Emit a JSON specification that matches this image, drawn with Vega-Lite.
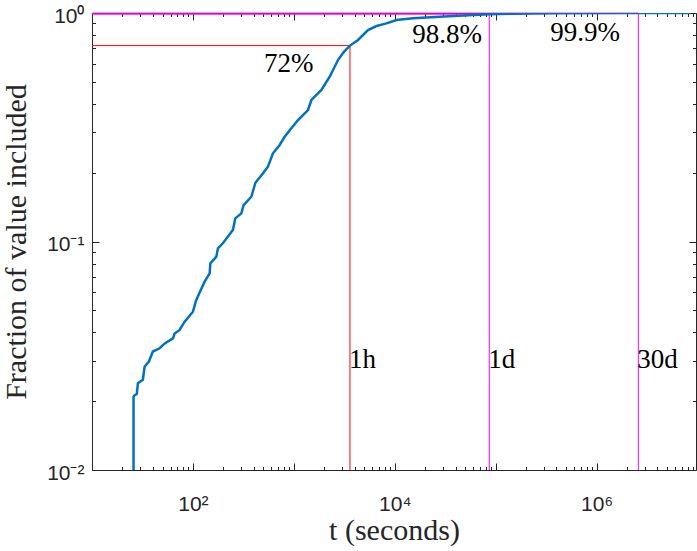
{
  "$schema": "https://vega.github.io/schema/vega-lite/v6.json",
  "width": 604,
  "height": 457,
  "autosize": {"type": "none"},
  "padding": {"left": 92, "top": 13, "right": 1, "bottom": 81},
  "background": "white",
  "config": {
    "view": {"stroke": "#262626", "strokeWidth": 1},
    "axis": {"domain": false, "grid": false, "tickColor": "#262626", "tickWidth": 1, "labelColor": "#262626", "titleColor": "#262626", "labelFont": "Liberation Sans, Arial, sans-serif", "labelFontSize": 21, "titleFont": "'Liberation Serif', 'Times New Roman', serif", "titleFontSize": 30, "titleFontWeight": "normal", "labelFlush": false, "labelOverlap": false, "labelBound": false}
  },
  "datasets": {
    "cdf": [
      {"t": 25.8, "f": 0.001}, {"t": 25.8, "f": 0.0209}, {"t": 26.3, "f": 0.0212}, {"t": 27.8, "f": 0.0215},
      {"t": 28.5, "f": 0.024}, {"t": 31.9, "f": 0.0248}, {"t": 33.2, "f": 0.0283}, {"t": 36.6, "f": 0.0298},
      {"t": 40.1, "f": 0.033}, {"t": 46.8, "f": 0.0341}, {"t": 52.6, "f": 0.0358}, {"t": 63.5, "f": 0.0377},
      {"t": 65.9, "f": 0.0396}, {"t": 73.8, "f": 0.041}, {"t": 82.8, "f": 0.0446}, {"t": 100, "f": 0.0493},
      {"t": 108, "f": 0.0555}, {"t": 116, "f": 0.0595}, {"t": 130.6, "f": 0.0667}, {"t": 146.5, "f": 0.0726},
      {"t": 148.8, "f": 0.0802}, {"t": 170.6, "f": 0.0858}, {"t": 177, "f": 0.0934}, {"t": 198, "f": 0.0982},
      {"t": 249, "f": 0.1123}, {"t": 263, "f": 0.1263}, {"t": 302, "f": 0.1328}, {"t": 318, "f": 0.1444},
      {"t": 379, "f": 0.157}, {"t": 416, "f": 0.1808}, {"t": 495, "f": 0.1988}, {"t": 554, "f": 0.2125},
      {"t": 621, "f": 0.2432}, {"t": 724, "f": 0.2644}, {"t": 811, "f": 0.2874}, {"t": 945, "f": 0.3129},
      {"t": 1100, "f": 0.34}, {"t": 1381, "f": 0.3762}, {"t": 1493, "f": 0.4162}, {"t": 1876, "f": 0.4603},
      {"t": 2266, "f": 0.5262}, {"t": 2740, "f": 0.6225}, {"t": 3121, "f": 0.675}, {"t": 3600, "f": 0.72},
      {"t": 4325, "f": 0.762}, {"t": 5435, "f": 0.8425}, {"t": 6590, "f": 0.877}, {"t": 8280, "f": 0.901},
      {"t": 10400, "f": 0.932}, {"t": 15200, "f": 0.948}, {"t": 27900, "f": 0.963}, {"t": 59700, "f": 0.98},
      {"t": 86400, "f": 0.988}, {"t": 150000, "f": 0.993}, {"t": 400000, "f": 0.997}, {"t": 2592000, "f": 0.999},
      {"t": 5000000, "f": 0.9995}, {"t": 8550000, "f": 1.0}
    ],
    "markers": [
      {"dur": "1h", "t": 3600, "f": 0.72},
      {"dur": "1d", "t": 86400, "f": 0.988},
      {"dur": "30d", "t": 2592000, "f": 0.999}
    ],
    "pctLabels": [
      {"pct": "72%", "t": 889, "f": 0.552},
      {"pct": "98.8%", "t": 32960, "f": 0.737},
      {"pct": "99.9%", "t": 770800, "f": 0.757}
    ]
  },
  "resolve": {"axis": {"x": "independent", "y": "independent"}},
  "layer": [
    {
      "data": {"name": "markers"},
      "mark": {"type": "rule", "strokeWidth": 1},
      "encoding": {
        "x": {"field": "t", "type": "quantitative", "scale": {"type": "log", "domain": [10, 9660000], "nice": false},
              "axis": {"orient": "bottom", "values": [20,30,40,50,60,70,80,90,200,300,400,500,600,700,800,900,2000,3000,4000,5000,6000,7000,8000,9000,20000,30000,40000,50000,60000,70000,80000,90000,200000,300000,400000,500000,600000,700000,800000,900000,2000000,3000000,4000000,5000000,6000000,7000000,8000000,9000000], "tickSize": -3.5, "labels": false, "title": null}},
        "y": {"field": "f", "type": "quantitative", "scale": {"type": "log", "domain": [0.01, 1], "nice": false},
              "axis": {"orient": "left", "values": [0.02,0.03,0.04,0.05,0.06,0.07,0.08,0.09,0.2,0.3,0.4,0.5,0.6,0.7,0.8,0.9], "tickSize": -3.5, "labels": false, "title": null}},
        "y2": {"datum": 0.01},
        "color": {"field": "dur", "type": "nominal", "scale": {"domain": ["1h", "1d", "30d"], "range": ["#ff0000", "#ff00ff", "#ff00ff"]}, "legend": null}
      }
    },
    {
      "data": {"name": "markers"},
      "mark": {"type": "rule", "strokeWidth": 1},
      "encoding": {
        "x": {"field": "t", "type": "quantitative", "scale": {"type": "log", "domain": [10, 9660000], "nice": false},
              "axis": {"orient": "top", "values": [20,30,40,50,60,70,80,90,200,300,400,500,600,700,800,900,2000,3000,4000,5000,6000,7000,8000,9000,20000,30000,40000,50000,60000,70000,80000,90000,200000,300000,400000,500000,600000,700000,800000,900000,2000000,3000000,4000000,5000000,6000000,7000000,8000000,9000000], "tickSize": -3.5, "labels": false, "title": null}},
        "x2": {"datum": 10},
        "y": {"field": "f", "type": "quantitative", "scale": {"type": "log", "domain": [0.01, 1], "nice": false},
              "axis": {"orient": "right", "values": [0.02,0.03,0.04,0.05,0.06,0.07,0.08,0.09,0.2,0.3,0.4,0.5,0.6,0.7,0.8,0.9], "tickSize": -3.5, "labels": false, "title": null}},
        "color": {"field": "dur", "type": "nominal", "scale": {"domain": ["1h", "1d", "30d"], "range": ["#ff0000", "#ff00ff", "#ff00ff"]}, "legend": null}
      }
    },
    {
      "data": {"name": "cdf"},
      "mark": {"type": "line", "color": "#0072bd", "strokeWidth": 2.5, "clip": true},
      "encoding": {
        "x": {"field": "t", "type": "quantitative", "scale": {"type": "log", "domain": [10, 9660000], "nice": false},
              "axis": {"orient": "bottom", "values": [10,100,1000,10000,100000,1000000], "tickSize": -7, "labelPadding": 30, "labelExpr": "datum.value == 100 ? '10²' : datum.value == 10000 ? '10⁴' : datum.value == 1000000 ? '10⁶' : ''", "title": "t (seconds)", "titleY": 69, "titleBaseline": "alphabetic"}},
        "y": {"field": "f", "type": "quantitative", "scale": {"type": "log", "domain": [0.01, 1], "nice": false},
              "axis": {"orient": "left", "values": [0.01, 0.1, 1], "tickSize": -7, "labelPadding": 15, "labelOffset": 3, "labelBaseline": "middle", "labelExpr": "datum.value == 1 ? '10⁰' : datum.value == 0.1 ? '10⁻¹' : datum.value == 0.01 ? '10⁻²' : ''", "title": "Fraction of value included", "titleX": -67, "titleY": 228.5, "titleAngle": -90, "titleBaseline": "alphabetic", "titleAlign": "center"}},
        "order": {"value": null}
      }
    },
    {
      "data": {"name": "pctLabels"},
      "mark": {"type": "text", "font": "'Liberation Serif', 'Times New Roman', serif", "fontSize": 27, "align": "center", "baseline": "alphabetic", "color": "#000000"},
      "encoding": {
        "x": {"field": "t", "type": "quantitative", "scale": {"type": "log", "domain": [10, 9660000], "nice": false},
              "axis": {"orient": "top", "values": [10,100,1000,10000,100000,1000000], "tickSize": -7, "labels": false, "title": null}},
        "y": {"field": "f", "type": "quantitative", "scale": {"type": "log", "domain": [0.01, 1], "nice": false},
              "axis": {"orient": "right", "values": [0.01, 0.1, 1], "tickSize": -7, "labels": false, "title": null}},
        "text": {"field": "pct"}
      }
    },
    {
      "data": {"name": "markers"},
      "mark": {"type": "text", "font": "'Liberation Serif', 'Times New Roman', serif", "fontSize": 27, "align": "left", "baseline": "alphabetic", "color": "#000000", "dx": -1},
      "encoding": {
        "x": {"field": "t", "type": "quantitative", "scale": {"type": "log", "domain": [10, 9660000], "nice": false}, "axis": null},
        "y": {"datum": 0.0279, "type": "quantitative", "scale": {"type": "log", "domain": [0.01, 1], "nice": false}, "axis": null},
        "text": {"field": "dur"}
      }
    }
  ]
}
